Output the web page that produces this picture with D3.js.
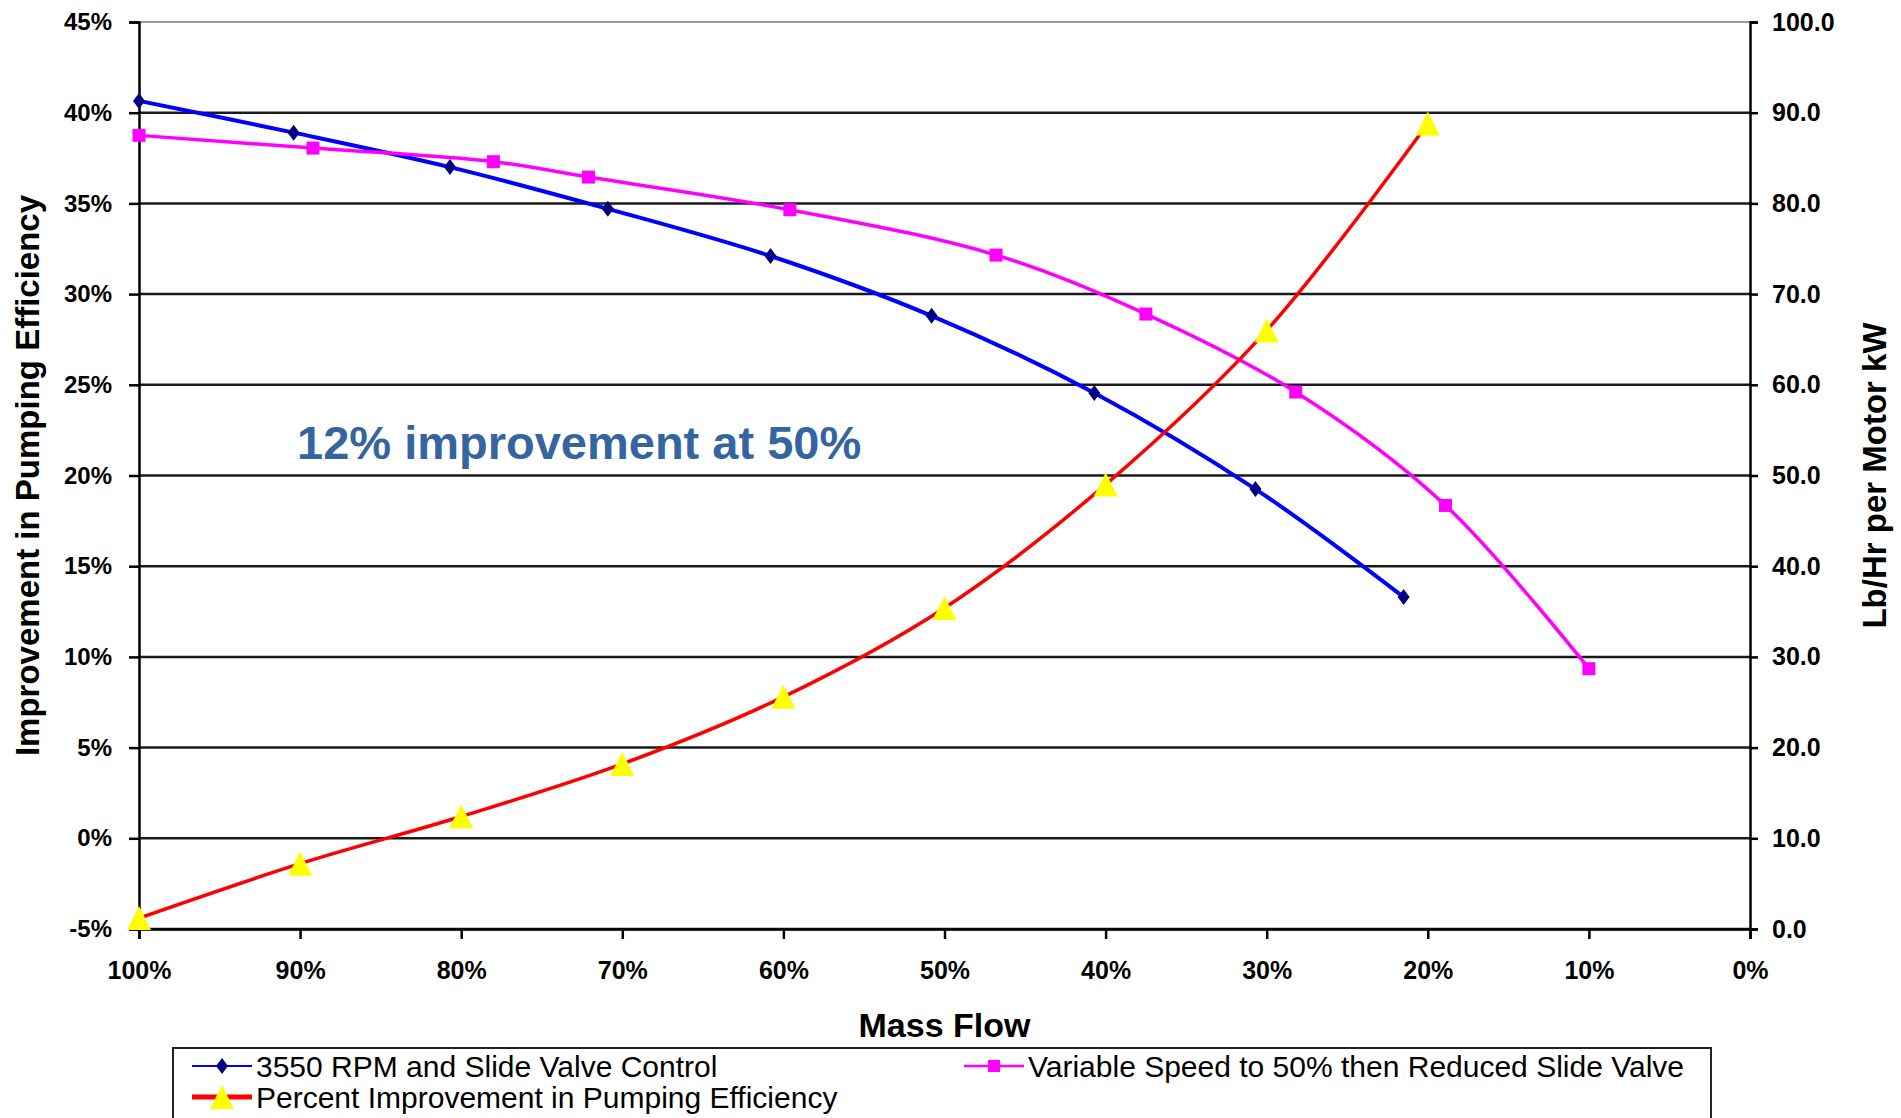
<!DOCTYPE html>
<html>
<head>
<meta charset="utf-8">
<script src="https://cdn.jsdelivr.net/npm/d3@7"></script>
<style>
  html, body { margin: 0; padding: 0; background: #ffffff; }
  svg { display: block; }
  text { font-family: "Liberation Sans", Arial, sans-serif; }
</style>
</head>
<body>
<svg id="chart" width="1901" height="1118"></svg>
<script>
// Mass flow (% of full) for each series
const flowSlideValve = [100, 90.4, 80.7, 70.9, 60.8, 50.8, 40.7, 30.7, 21.5];
const flowVariableSpeed = [100, 89.2, 78.0, 72.1, 59.6, 46.8, 37.5, 28.2, 18.9, 10.0];
const flowImprovement = [100, 90, 80, 70, 60, 50, 40, 30, 20];

// Lb/Hr per Motor kW (right axis)
const slideValve = [91.3, 87.8, 84.0, 79.4, 74.2, 67.6, 59.1, 48.5, 36.6];
const variableSpeed = [87.5, 86.1, 84.6, 82.9, 79.3, 74.3, 67.8, 59.2, 46.7, 28.7];

// Percent improvement in pumping efficiency (left axis)
const improvement = [-4.4, -1.4, 1.2, 4.1, 7.8, 12.7, 19.5, 28.0, 39.4];

// Tick values
const flowTicks = [100, 90, 80, 70, 60, 50, 40, 30, 20, 10, 0];
const pctTicks = [-5, 0, 5, 10, 15, 20, 25, 30, 35, 40, 45];
const kwTicks = [0, 10, 20, 30, 40, 50, 60, 70, 80, 90, 100];

const seriesNames = [
  "3550 RPM and Slide Valve Control",
  "Variable Speed to 50% then Reduced Slide Valve",
  "Percent Improvement in Pumping Efficiency"
];

const svg = d3.select("#chart");
const plotLeft = 139, plotRight = 1750, plotTop = 22, plotBottom = 929;

const x = d3.scaleLinear().domain([100, 0]).range([plotLeft, plotRight]);
const yL = d3.scaleLinear().domain([-5, 45]).range([plotBottom, plotTop]);
const yR = d3.scaleLinear().domain([0, 100]).range([plotBottom, plotTop]);

// horizontal gridlines
svg.append("g").selectAll("line").data(pctTicks).join("line")
  .attr("x1", plotLeft).attr("x2", plotRight)
  .attr("y1", d => yL(d)).attr("y2", d => yL(d))
  .attr("stroke", d => d === 45 ? "#9a9a9a" : "#1a1a1a")
  .attr("stroke-width", d => d === 45 ? 2 : 2.5);

// axes
const axisFont = g => g.selectAll("text")
  .style("font-family", '"Liberation Sans", Arial, sans-serif')
  .style("font-weight", "bold").attr("fill", "#000");

const gL = svg.append("g").attr("transform", `translate(${plotLeft},0)`)
  .call(d3.axisLeft(yL).tickValues(pctTicks).tickFormat(d => d + "%").tickSize(10).tickPadding(17))
  .call(axisFont);
gL.selectAll("text").style("font-size", "24px");

const gR = svg.append("g").attr("transform", `translate(${plotRight},0)`)
  .call(d3.axisRight(yR).tickValues(kwTicks).tickFormat(d3.format(".1f")).tickSize(8).tickPadding(14))
  .call(axisFont);
gR.selectAll("text").style("font-size", "25px");

const gX = svg.append("g").attr("transform", `translate(0,${plotBottom})`)
  .call(d3.axisBottom(x).tickValues(flowTicks).tickFormat(d => d + "%").tickSize(10).tickPadding(22))
  .call(axisFont);
gX.selectAll("text").style("font-size", "25px");

[gL, gR, gX].forEach(g => {
  g.select(".domain").attr("stroke", "#000").attr("stroke-width", 2.5);
  g.selectAll(".tick line").attr("stroke", "#000").attr("stroke-width", 2.5);
});

// axis titles
svg.append("text")
  .attr("transform", `translate(27,${(plotTop + plotBottom) / 2}) rotate(-90)`)
  .attr("text-anchor", "middle").attr("dominant-baseline", "central")
  .style("font-size", "33px").style("font-weight", "bold")
  .text("Improvement in Pumping Efficiency");

svg.append("text")
  .attr("transform", `translate(1874,${(plotTop + plotBottom) / 2}) rotate(-90)`)
  .attr("text-anchor", "middle").attr("dominant-baseline", "central")
  .style("font-size", "33px").style("font-weight", "bold")
  .text("Lb/Hr per Motor kW");

svg.append("text")
  .attr("x", (plotLeft + plotRight) / 2).attr("y", 1037)
  .attr("text-anchor", "middle")
  .style("font-size", "34px").style("font-weight", "bold")
  .text("Mass Flow");

// annotation
svg.append("text")
  .attr("x", 297).attr("y", 459)
  .style("font-size", "47px").style("font-weight", "bold")
  .attr("fill", "#35659f")
  .text("12% improvement at 50%");

// series lines
const curve = d3.curveCatmullRom.alpha(0.5);
const blueData = flowSlideValve.map((f, i) => [f, slideValve[i]]);
const magData = flowVariableSpeed.map((f, i) => [f, variableSpeed[i]]);
const redData = flowImprovement.map((f, i) => [f, improvement[i]]);

const lineR = d3.line().x(d => x(d[0])).y(d => yR(d[1])).curve(curve);
const lineL = d3.line().x(d => x(d[0])).y(d => yL(d[1])).curve(curve);

svg.append("path").datum(blueData).attr("d", lineR)
  .attr("fill", "none").attr("stroke", "#0000ff").attr("stroke-width", 4);
svg.append("g").selectAll("path").data(blueData).join("path")
  .attr("transform", d => `translate(${x(d[0])},${yR(d[1])})`)
  .attr("d", "M0,-8L6,0L0,8L-6,0Z").attr("fill", "#000080");

svg.append("path").datum(magData).attr("d", lineR)
  .attr("fill", "none").attr("stroke", "#ff00ff").attr("stroke-width", 3.5);
svg.append("g").selectAll("rect").data(magData).join("rect")
  .attr("x", d => x(d[0]) - 6.5).attr("y", d => yR(d[1]) - 6.5)
  .attr("width", 13).attr("height", 13).attr("fill", "#ff00ff");

svg.append("path").datum(redData).attr("d", lineL)
  .attr("fill", "none").attr("stroke", "#ff0000").attr("stroke-width", 3.5);
svg.append("g").selectAll("path").data(redData).join("path")
  .attr("transform", d => `translate(${x(d[0])},${yL(d[1])})`)
  .attr("d", "M0,-12L12,12L-12,12Z").attr("fill", "#ffff00");

// legend
const legend = svg.append("g");
legend.append("rect")
  .attr("x", 173).attr("y", 1048).attr("width", 1538).attr("height", 90)
  .attr("fill", "#fff").attr("stroke", "#222").attr("stroke-width", 2);

const legendItems = [
  { name: seriesNames[0], col: 192, row: 1066, color: "#0000ff", w: 2, marker: "diamond" },
  { name: seriesNames[1], col: 964, row: 1066, color: "#ff00ff", w: 2.5, marker: "square" },
  { name: seriesNames[2], col: 192, row: 1097, color: "#ff0000", w: 5, marker: "triangle" }
];
legendItems.forEach(it => {
  const g = legend.append("g").attr("transform", `translate(${it.col},${it.row})`);
  g.append("line").attr("x1", 0).attr("x2", 60).attr("y1", 0).attr("y2", 0)
    .attr("stroke", it.color).attr("stroke-width", it.w);
  if (it.marker === "diamond") {
    g.append("path").attr("d", "M30,-8L36,0L30,8L24,0Z").attr("fill", "#000080");
  } else if (it.marker === "square") {
    g.append("rect").attr("x", 24).attr("y", -6).attr("width", 12).attr("height", 12).attr("fill", "#ff00ff");
  } else {
    g.append("path").attr("d", "M30,-12L42,12L18,12Z").attr("fill", "#ffff00");
  }
  g.append("text").attr("x", 64).attr("y", 11)
    .style("font-size", "30px").attr("fill", "#000")
    .text(it.name);
});
</script>
</body>
</html>
